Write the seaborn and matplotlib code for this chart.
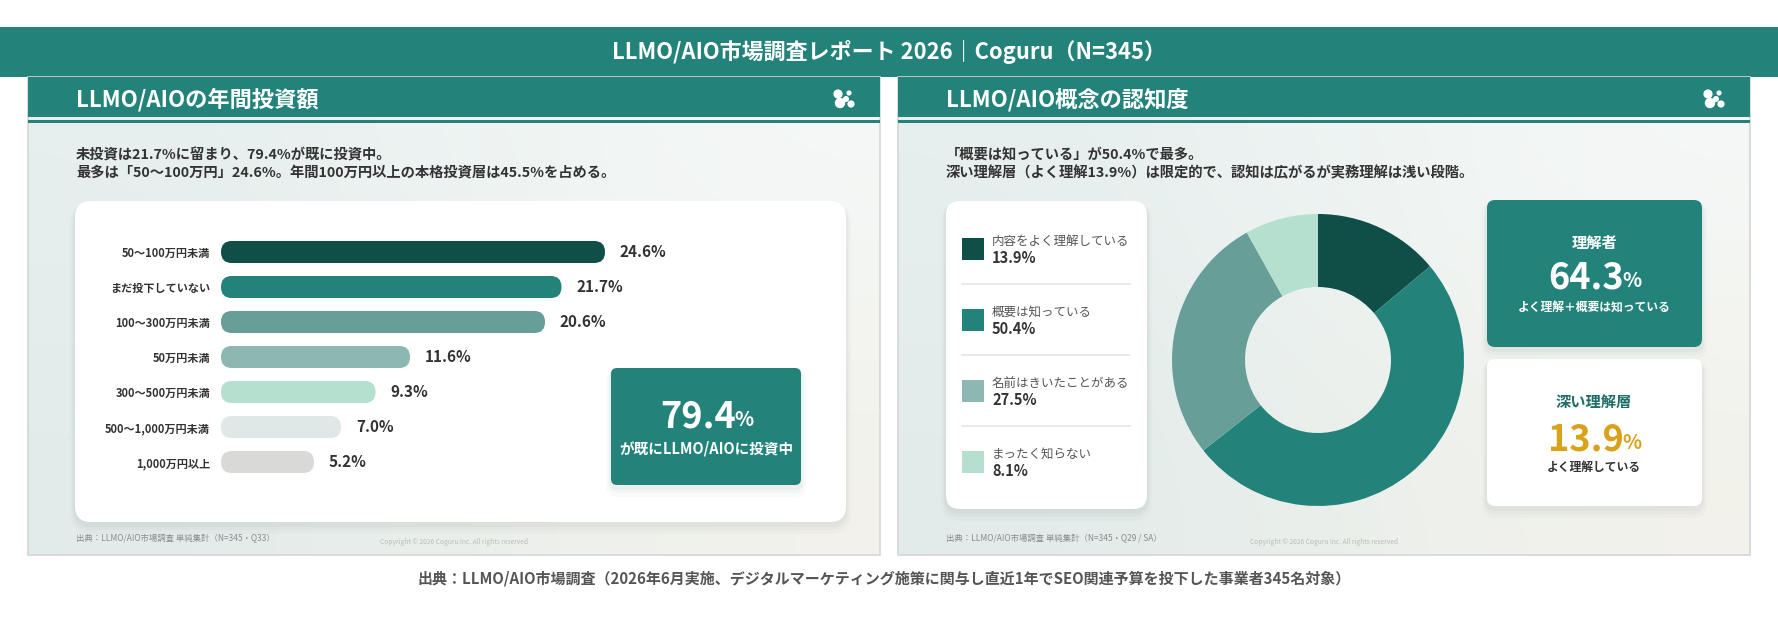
import numpy as np
import matplotlib
matplotlib.use("Agg")
import matplotlib.pyplot as plt
import seaborn as sns
from matplotlib.patches import FancyBboxPatch, Rectangle, Circle
from matplotlib.colors import to_rgb

# --- data ---
invest_labels = ["50〜100万円未満", "まだ投下していない", "100〜300万円未満", "50万円未満",
                 "300〜500万円未満", "500〜1,000万円未満", "1,000万円以上"]
invest_values = [24.6, 21.7, 20.6, 11.6, 9.3, 7.0, 5.2]
invest_colors = ["#0f4f48", "#23837a", "#679e98", "#8db8b1", "#b5dfcf", "#e0e8e7", "#d9d9d7"]

aware_labels = ["内容をよく理解している", "概要は知っている", "名前はきいたことがある", "まったく知らない"]
aware_values = [13.9, 50.4, 27.5, 8.1]
aware_colors = ["#0f4f48", "#23837a", "#679e98", "#b5dfcf"]
aware_legend_colors = ["#0f4f48", "#23837a", "#8db8b1", "#b5dfcf"]

invested_share = 79.4
understood_share = 64.3
deep_share = 13.9

TEAL = "#23837a"
W, H = 1778, 636

sns.set_theme(style="white")
plt.rcParams['font.family'] = ['Noto Sans CJK JP', 'DejaVu Sans']

fig = plt.figure(figsize=(W / 100, H / 100), dpi=100)
bg = fig.add_axes([0, 0, 1, 1])
bg.axis('off')


def px_axes(x0, y0, x1, y1):
    ax = fig.add_axes([x0 / W, 1 - y1 / H, (x1 - x0) / W, (y1 - y0) / H])
    ax.set_facecolor('none')
    return ax


def card(x0, y0, x1, y1, fc, r=14, shadow=True):
    if shadow:
        for k, a in [(10, 0.03), (6, 0.04), (3, 0.05)]:
            bg.add_patch(FancyBboxPatch((x0 - k / 2, y0 + 2), x1 - x0 + k, y1 - y0 + k,
                                        boxstyle=f"round,pad=0,rounding_size={r + k / 2}",
                                        fc="#6f7f7d", ec='none', alpha=a))
    bg.add_patch(FancyBboxPatch((x0, y0), x1 - x0, y1 - y0,
                                boxstyle=f"round,pad=0,rounding_size={r}", fc=fc, ec='none'))


def logo(cx, cy):
    for dx, dy, rr in [(-5, -5, 4.6), (-3, 4, 5.2), (3, 0, 3.0), (8, 5, 3.6), (6, -6, 2.6)]:
        bg.add_patch(Circle((cx + dx, cy + dy), rr, fc='white', ec='none'))


def big_pct(cx, cy, num, color, size=26):
    t = bg.text(cx - 8, cy, num, ha='center', va='center', fontsize=size,
                fontweight='bold', color=color)
    bg.annotate("%", xy=(1, 0.15), xycoords=t, xytext=(-1, 0), textcoords='offset points',
                ha='left', va='bottom', fontsize=size * 0.55, fontweight='bold', color=color)


# top banner
bg.add_patch(Rectangle((0, 27), W, 50, fc=TEAL, ec='none'))
bg.text(W / 2, 52, "LLMO/AIO市場調査レポート 2026｜Coguru（N=345）", ha='center', va='center',
        fontsize=15.8, fontweight='bold', color='white')

# panels
panel_titles = ["LLMO/AIOの年間投資額", "LLMO/AIO概念の認知度"]
panel_notes = [["未投資は21.7%に留まり、79.4%が既に投資中。",
                "最多は「50〜100万円」24.6%。年間100万円以上の本格投資層は45.5%を占める。"],
               ["「概要は知っている」が50.4%で最多。",
                "深い理解層（よく理解13.9%）は限定的で、認知は広がるが実務理解は浅い段階。"]]
panel_sources = ["出典：LLMO/AIO市場調査 単純集計（N=345・Q33）",
                 "出典：LLMO/AIO市場調査 単純集計（N=345・Q29 / SA）"]

grad = np.array([[to_rgb("#e6efee"), to_rgb("#f5f8f7")],
                 [to_rgb("#e1ebea"), to_rgb("#f3f2eb")]])
for i, x0 in enumerate([28, 898]):
    x1 = x0 + 852
    bg.imshow(grad, extent=(x0, x1, 555, 77), interpolation='bicubic', aspect='auto', zorder=0)
    bg.add_patch(Rectangle((x0, 77), 852, 478, fc='none', ec='#d4d6d6', lw=1.2, zorder=1))
    bg.add_patch(Rectangle((x0, 77), 852, 40, fc=TEAL, ec='none'))
    bg.add_patch(Rectangle((x0, 119.5), 852, 3.5, fc=TEAL, ec='none'))
    bg.text(x0 + 48, 100, panel_titles[i], ha='left', va='center', fontsize=16,
            fontweight='bold', color='white')
    logo(x0 + 815, 99)
    bg.text(x0 + 48, 155, panel_notes[i][0], ha='left', va='center', fontsize=10.3,
            fontweight='bold', color='#333333')
    bg.text(x0 + 48, 173, panel_notes[i][1], ha='left', va='center', fontsize=10.3,
            fontweight='bold', color='#333333')
    bg.text(x0 + 48, 538, panel_sources[i], ha='left', va='center', fontsize=6.0, color='#8a8a8a')
    bg.text(x0 + 426, 542, "Copyright © 2026 Coguru Inc. All rights reserved", ha='center',
            va='center', fontsize=4.8, color='#bbbbbb')

# left: bar card
card(75, 201, 846, 522, 'white', r=16)

px_per = 15.0          # pixels per percentage point
bar_ax = px_axes(221, 234.5, 221 + px_per * 31, 479.5)
sns.barplot(x=invest_values, y=invest_labels, hue=invest_labels, palette=invest_colors,
            orient='h', width=0.63, saturation=1, legend=False, ax=bar_ax)
bar_ax.set_xlim(-1, 30)
bar_ax.set_ylim(6.5, -0.5)
aspect = px_per / 35.0
for p in list(bar_ax.patches):
    # rounded bar, with a one-unit cap on the left like the reference
    rp = FancyBboxPatch((p.get_x() - 1, p.get_y()), p.get_width() + 1, p.get_height(),
                        boxstyle="round,pad=0,rounding_size=0.72", mutation_aspect=aspect,
                        fc=p.get_facecolor(), ec='none')
    p.remove()
    bar_ax.add_patch(rp)
for i, v in enumerate(invest_values):
    bar_ax.text(v + 1, i, f"{v:.1f}%", va='center', ha='left', fontsize=11,
                fontweight='bold', color='#333333')
bar_ax.set_xticks([])
bar_ax.set_xlabel('')
bar_ax.set_ylabel('')
bar_ax.tick_params(axis='y', length=0, pad=8)
for lab in bar_ax.get_yticklabels():
    lab.set_fontsize(8.0)
    lab.set_fontweight('bold')
    lab.set_color('#333333')
sns.despine(ax=bar_ax, left=True, bottom=True)

card(611, 368, 801, 485, TEAL, r=6)
big_pct(706, 417, f"{invested_share:.1f}", 'white')
bg.text(706, 448, "が既にLLMO/AIOに投資中", ha='center', va='center', fontsize=10.5,
        fontweight='bold', color='white')

# right: legend card
card(946, 201, 1147, 509, 'white', r=14)
for i, (lab, v, c) in enumerate(zip(aware_labels, aware_values, aware_legend_colors)):
    y = 238 + 71 * i
    bg.add_patch(Rectangle((962, y), 22, 22, fc=c, ec='none'))
    bg.text(992, y + 3, lab, ha='left', va='center', fontsize=9, color='#555555')
    bg.text(992, y + 20, f"{v:.1f}%", ha='left', va='center', fontsize=10.5,
            fontweight='bold', color='#333333')
    if i < 3:
        bg.plot([962, 1130], [y + 46, y + 46], color='#e4e6e6', lw=1.2)

# donut
pie_ax = px_axes(1172, 214, 1464, 506)
pie_ax.pie(aware_values, colors=aware_colors, startangle=90, counterclock=False, radius=1,
           wedgeprops=dict(width=0.5, edgecolor='none'))
pie_ax.set_xlim(-1, 1)
pie_ax.set_ylim(-1, 1)
pie_ax.set_aspect('equal')

# right: summary boxes
card(1487, 200, 1702, 347, TEAL, r=8)
bg.text(1594, 243, "理解者", ha='center', va='center', fontsize=11, fontweight='bold', color='white')
big_pct(1594, 278, f"{understood_share:.1f}", 'white')
bg.text(1594, 307, "よく理解＋概要は知っている", ha='center', va='center', fontsize=8.5,
        fontweight='bold', color='white')

card(1487, 359, 1702, 506, 'white', r=8)
bg.text(1594, 402, "深い理解層", ha='center', va='center', fontsize=11, fontweight='bold',
        color='#1f6f67')
big_pct(1594, 440, f"{deep_share:.1f}", '#d9a21b')
bg.text(1594, 467, "よく理解している", ha='center', va='center', fontsize=8.5,
        fontweight='bold', color='#333333')

# bottom caption
bg.text(884, 579, "出典：LLMO/AIO市場調査（2026年6月実施、デジタルマーケティング施策に関与し直近1年でSEO関連予算を投下した事業者345名対象）",
        ha='center', va='center', fontsize=10.8, fontweight='bold', color='#555555')

bg.set_xlim(0, W)
bg.set_ylim(H, 0)
fig.savefig("out.png", dpi=100, facecolor='white')
